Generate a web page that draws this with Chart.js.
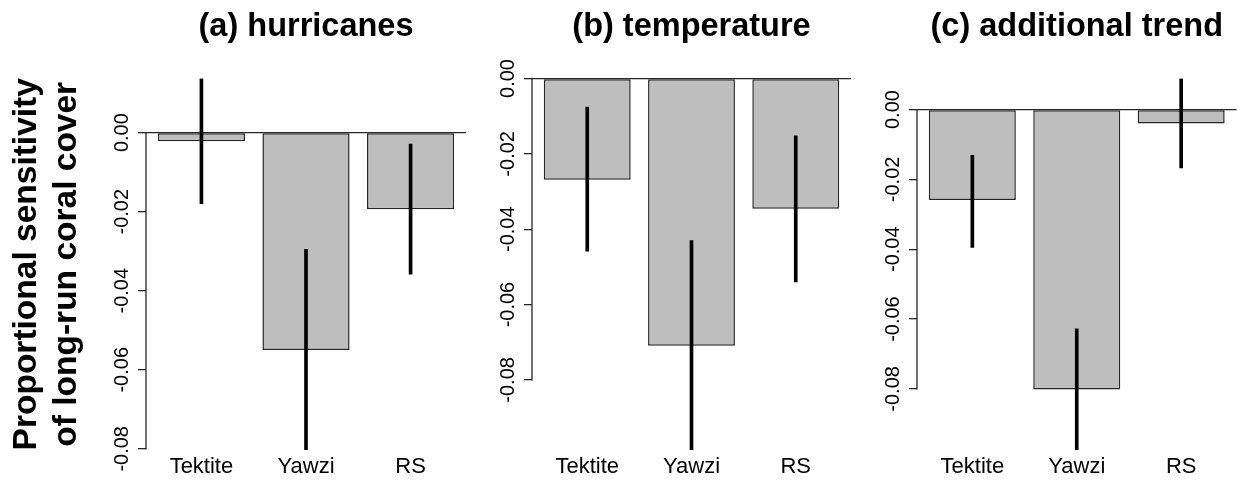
<!DOCTYPE html>
<html>
<head>
<meta charset="utf-8">
<script src="https://cdn.jsdelivr.net/npm/chart.js@4.4.1/dist/chart.umd.min.js"></script>
<style>
  html, body { margin: 0; padding: 0; background: #fff; }
  #wrap { position: relative; width: 1238px; height: 483px; overflow: hidden; background: #fff; }
  #wrap canvas { position: absolute; top: 0; }
</style>
</head>
<body>
<div id="wrap">
  <canvas id="hurricanes" width="475" height="483" style="left:0px"></canvas>
  <canvas id="temperature" width="385" height="483" style="left:475px"></canvas>
  <canvas id="trend" width="378" height="483" style="left:860px"></canvas>
</div>
<script>
// Sites and panel titles
const categories = ['Tektite', 'Yawzi', 'RS'];
const panelTitles = ['(a) hurricanes', '(b) temperature', '(c) additional trend'];

// Proportional sensitivity estimates with interval ends, per driver
const hurricaneMean  = [-0.0022, -0.0550, -0.0194];
const hurricaneLow   = [-0.0180, -0.0803, -0.0358];
const hurricaneHigh  = [ 0.0137, -0.0295, -0.0029];

const temperatureMean = [-0.0269, -0.0709, -0.0346];
const temperatureLow  = [-0.0458, -0.0986, -0.0540];
const temperatureHigh = [-0.0076, -0.0430, -0.0152];

const trendMean = [-0.0259, -0.0802, -0.0040];
const trendLow  = [-0.0395, -0.0975, -0.0167];
const trendHigh = [-0.0131, -0.0628,  0.0089];

// Value axis ticks
const yTicks = [-0.08, -0.06, -0.04, -0.02, 0];
const yTickLabels = ['-0.08', '-0.06', '-0.04', '-0.02', '0.00'];
const yAxisTitle = ['Proportional sensitivity', 'of long-run coral cover'];

Chart.defaults.font.family = "'Liberation Sans', Arial, Helvetica, sans-serif";
Chart.defaults.color = '#000';

// barplot-style layout: bars of width 1 separated by 0.2, range padded by 4%
const barCentres = categories.map((_, i) => 0.7 + 1.2 * i);
const xSpan = (barCentres[barCentres.length - 1] + 0.5) - (barCentres[0] - 0.5);
const xMin = barCentres[0] - 0.5 - 0.04 * xSpan;
const xMax = barCentres[barCentres.length - 1] + 0.5 + 0.04 * xSpan;

const LINE = '#262626';

// Left axis line running from the first to the last tick
const axisLine = {
  id: 'axisLine',
  afterDatasetsDraw(chart) {
    const s = chart.scales.y;
    const ctx = chart.ctx;
    const top = s.getPixelForValue(Math.max(...yTicks));
    const bottom = s.getPixelForValue(Math.min(...yTicks));
    ctx.save();
    ctx.strokeStyle = LINE;
    ctx.lineWidth = 1.3;
    ctx.beginPath();
    ctx.moveTo(s.right, top - 0.65);
    ctx.lineTo(s.right, bottom + 0.65);
    ctx.stroke();
    ctx.restore();
  }
};

function makePanel(id, title, means, low, high, yAxisWidth, padRight, yTitle) {
  const yMin = Math.min(...low);
  const yMax = Math.max(0, ...high);
  return new Chart(document.getElementById(id), {
    type: 'bar',
    data: {
      datasets: [
        {
          label: 'interval',
          data: categories.map((c, i) => ({ x: barCentres[i], y: [low[i], high[i]] })),
          backgroundColor: '#000',
          borderWidth: 0,
          barThickness: 3,
          grouped: false,
          order: 0
        },
        {
          label: 'estimate',
          data: categories.map((c, i) => ({ x: barCentres[i], y: means[i] })),
          backgroundColor: '#bebebe',
          borderColor: LINE,
          borderWidth: 1.5,
          borderSkipped: false,
          barPercentage: 1 / 1.2,
          categoryPercentage: 1,
          grouped: false,
          order: 1
        }
      ]
    },
    options: {
      responsive: false,
      animation: false,
      devicePixelRatio: 1,
      events: [],
      layout: { padding: { left: 0, right: padRight, top: 0, bottom: 0 } },
      plugins: {
        legend: { display: false },
        tooltip: { enabled: false },
        title: {
          display: true,
          text: title,
          fullSize: false,
          color: '#000',
          font: { size: 32.5, weight: 'bold' },
          padding: { top: 7.7, bottom: 31.8 }
        }
      },
      scales: {
        x: {
          type: 'linear',
          offset: false,
          min: xMin,
          max: xMax,
          grid: { display: false, drawTicks: false, offset: false },
          border: { display: false },
          afterBuildTicks: s => { s.ticks = barCentres.map(v => ({ value: v })); },
          afterFit: s => { s.height = 33; },
          ticks: {
            autoSkip: false,
            minRotation: 0,
            maxRotation: 0,
            padding: 3.5,
            color: '#000',
            font: { size: 22 },
            callback: (v, i) => categories[i]
          }
        },
        y: {
          type: 'linear',
          min: yMin,
          max: yMax,
          border: { display: false },
          grid: {
            drawOnChartArea: true,
            drawTicks: true,
            tickLength: 8,
            lineWidth: 1.3,
            color: c => (c.tick && c.tick.value === 0) ? LINE : 'rgba(0,0,0,0)',
            tickColor: LINE
          },
          afterBuildTicks: s => { s.ticks = yTicks.map(v => ({ value: v })); },
          afterFit: s => { s.width = yAxisWidth; },
          ticks: {
            autoSkip: false,
            minRotation: 90,
            maxRotation: 90,
            crossAlign: 'center',
            padding: -7.3,
            color: '#000',
            font: { size: 20 },
            callback: (v, i) => yTickLabels[i]
          },
          title: yTitle ? {
            display: true,
            text: yTitle,
            color: '#000',
            font: { size: 33.5, weight: 'bold', lineHeight: 1.17 },
            padding: { top: 7.6, bottom: 0 }
          } : { display: false }
        }
      }
    },
    plugins: [axisLine]
  });
}

makePanel('hurricanes', panelTitles[0], hurricaneMean, hurricaneLow, hurricaneHigh, 146, 9, yAxisTitle);
makePanel('temperature', panelTitles[1], temperatureMean, temperatureLow, temperatureHigh, 57, 9, null);
makePanel('trend', panelTitles[2], trendMean, trendLow, trendHigh, 57, 1.5, null);
</script>
</body>
</html>
